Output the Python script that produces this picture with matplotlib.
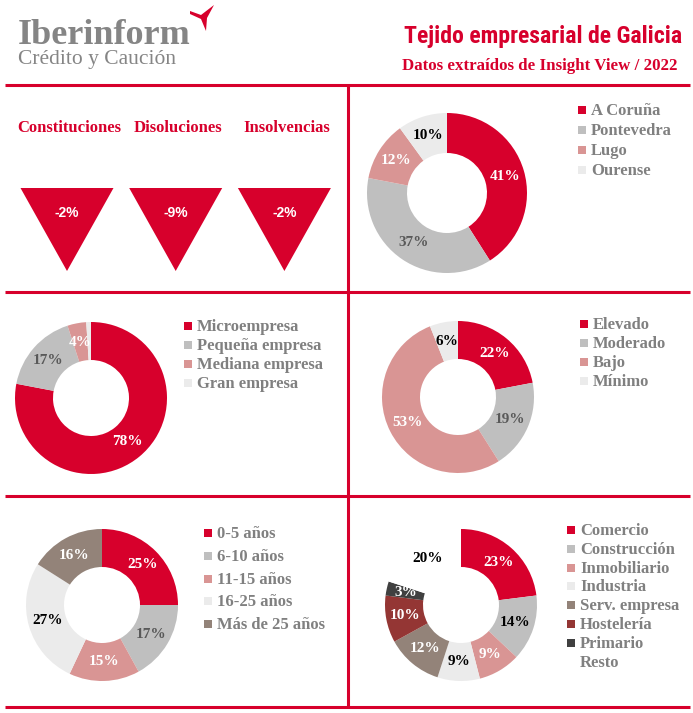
import numpy as np
import matplotlib
matplotlib.use('Agg')
import matplotlib.pyplot as plt
from matplotlib import font_manager
from matplotlib.patches import Polygon, Rectangle

W, H = 693, 713

RED = '#D7002C'
GRAY = '#BFBFBF'
PINK = '#D99594'
LIGHT = '#EBEBEB'
TAUPE = '#938379'
DARKRED = '#943634'
DARK = '#404040'
TXTGRAY = '#808080'
LBLGRAY = '#595959'

SERIF = 'Liberation Serif'

# ---- data ----
kpi_names = ['Constituciones', 'Disoluciones', 'Insolvencias']
kpi_values = ['-2%', '-9%', '-2%']

prov_labels = ['A Coruña', 'Pontevedra', 'Lugo', 'Ourense']
prov_values = [41, 37, 12, 10]

size_labels = ['Microempresa', 'Pequeña empresa', 'Mediana empresa', 'Gran empresa']
size_values = [78, 17, 4, 1]

risk_labels = ['Elevado', 'Moderado', 'Bajo', 'Mínimo']
risk_values = [22, 19, 53, 6]

age_labels = ['0-5 años', '6-10 años', '11-15 años', '16-25 años', 'Más de 25 años']
age_values = [25, 17, 15, 27, 16]

sector_labels = ['Comercio', 'Construcción', 'Inmobiliario', 'Industria',
                 'Serv. empresa', 'Hostelería', 'Primario', 'Resto']
sector_values = [23, 14, 9, 9, 12, 10, 3, 20]


def condensed_bold():
    # look for any installed condensed / narrow bold sans face
    best = None
    for f in font_manager.fontManager.ttflist:
        narrow = ('Condensed' in f.name or 'Narrow' in f.name or
                  f.stretch in ('condensed', 'semi-condensed', 'extra-condensed', 75, 87.5))
        w = f.weight if isinstance(f.weight, int) else 400
        if narrow and (w >= 600 or f.weight == 'bold') and 'Serif' not in f.name \
                and 'Mono' not in f.name:
            best = f.fname
            if 'Roboto' in f.name:
                break
    if best:
        return font_manager.FontProperties(fname=best)
    return font_manager.FontProperties(family='DejaVu Sans', weight='bold')


fig = plt.figure(figsize=(W / 100, H / 100), dpi=100)
ax = fig.add_axes([0, 0, 1, 1])
ax.set_xlim(0, W)
ax.set_ylim(H, 0)
ax.axis('off')
renderer = fig.canvas.get_renderer()


def fit_width(t, target):
    # scale the font so the text spans the target width in pixels
    wpx = t.get_window_extent(renderer).width
    t.set_fontsize(t.get_fontsize() * target / wpx)


# header
ax.text(18, 44, 'Iberinform', family=SERIF, weight='bold', fontsize=26,
        color='#858585', va='baseline')
ax.text(18, 64, 'Crédito y Caución', family=SERIF, fontsize=15.5,
        color='#858585', va='baseline')
bird = [(190, 11), (201, 15), (214, 5), (207, 18), (206, 31), (201, 19), (190, 14)]
ax.add_patch(Polygon(bird, closed=True, color=RED, lw=0))
fp = condensed_bold()
title = ax.text(682, 43, 'Tejido empresarial de Galicia', fontproperties=fp,
                fontsize=17.5, color=RED, ha='right', va='baseline')
fit_width(title, 278)
sub = ax.text(678, 70, 'Datos extraídos de Insight View / 2022', family=SERIF,
              weight='bold', fontsize=11, color=RED, ha='right', va='baseline')
fit_width(sub, 274)

# grid lines
for y in [85, 292, 496, 707]:
    ax.plot([5, 690], [y, y], color=RED, lw=2.2, solid_capstyle='butt')
ax.plot([348, 348], [85, 707], color=RED, lw=2.2, solid_capstyle='butt')

# KPI triangles
for i, (name, val) in enumerate(zip(kpi_names, kpi_values)):
    cx = 67 + i * 108.7
    ax.text(cx + 2, 128, name, family=SERIF, weight='bold', fontsize=12,
            color=RED, ha='center', va='center')
    tri = [(cx - 46.5, 188), (cx + 46.5, 188), (cx, 271)]
    ax.add_patch(Polygon(tri, closed=True, color=RED, lw=0))
    ax.text(cx, 213, val, family='Liberation Sans', weight='bold', fontsize=10,
            color='white', ha='center', va='center')


def donut(values, colors, txtcolors, cx, cy, r):
    axd = fig.add_axes([(cx - r) / W, 1 - (cy + r) / H, 2 * r / W, 2 * r / H])
    wedges, _ = axd.pie(values, colors=colors, startangle=90, counterclock=False,
                        radius=1, wedgeprops=dict(width=0.5, linewidth=0))
    axd.set_xlim(-1, 1)
    axd.set_ylim(-1, 1)
    axd.axis('off')
    for w, v, tc in zip(wedges, values, txtcolors):
        if tc is None:
            continue
        ang = np.deg2rad((w.theta1 + w.theta2) / 2)
        axd.text(0.75 * np.cos(ang), 0.75 * np.sin(ang), '%d%%' % v,
                 family=SERIF, weight='bold', fontsize=11, color=tc,
                 ha='center', va='center')


def legend(labels, colors, x, y0, dy):
    for i, (lab, c) in enumerate(zip(labels, colors)):
        y = y0 + i * dy
        ax.add_patch(Rectangle((x, y - 4), 8, 8, color=c, lw=0))
        ax.text(x + 13, y + 1, lab, family=SERIF, weight='bold', fontsize=12,
                color=TXTGRAY, va='center')


c4 = [RED, GRAY, PINK, LIGHT]
donut(prov_values, c4, ['white', LBLGRAY, 'white', 'black'], 447, 193, 80)
legend(prov_labels, c4, 578, 110, 20)

donut(size_values, c4, ['white', LBLGRAY, 'white', None], 91, 398, 76)
legend(size_labels, c4, 184, 326, 19)

donut(risk_values, c4, ['white', LBLGRAY, 'white', 'black'], 458, 397, 76)
legend(risk_labels, c4, 580, 324, 19)

c5 = [RED, GRAY, PINK, LIGHT, TAUPE]
donut(age_values, c5, ['white', LBLGRAY, 'white', 'black', 'white'], 102, 605, 76)
legend(age_labels, c5, 204, 533, 22.8)

c8 = [RED, GRAY, PINK, LIGHT, TAUPE, DARKRED, DARK, 'white']
donut(sector_values, c8, ['white', 'black', 'white', 'black', 'white', 'white',
                          'white', 'black'], 461, 605, 76)
legend(sector_labels, c8, 567, 530, 18.8)

fig.savefig('out.png', dpi=100, facecolor='white')
